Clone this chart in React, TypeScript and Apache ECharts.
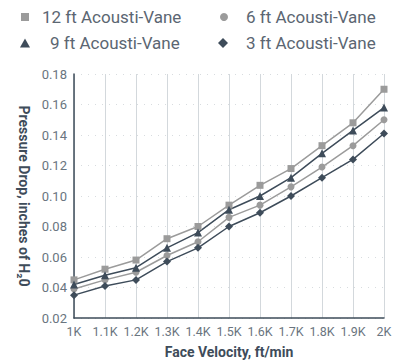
import React, { useEffect, useRef } from "react";
import * as echarts from "echarts";

const categories = ["1K", "1.1K", "1.2K", "1.3K", "1.4K", "1.5K", "1.6K", "1.7K", "1.8K", "1.9K", "2K"];
const seriesNames = ["12 ft Acousti-Vane", "6 ft Acousti-Vane", "9 ft Acousti-Vane", "3 ft Acousti-Vane"];
const ft12 = [0.045, 0.052, 0.058, 0.072, 0.080, 0.094, 0.107, 0.118, 0.133, 0.148, 0.170];
const ft9 = [0.042, 0.048, 0.053, 0.066, 0.076, 0.091, 0.100, 0.112, 0.128, 0.143, 0.158];
const ft6 = [0.039, 0.045, 0.050, 0.061, 0.070, 0.086, 0.094, 0.106, 0.119, 0.133, 0.150];
const ft3 = [0.035, 0.041, 0.045, 0.057, 0.066, 0.080, 0.089, 0.100, 0.112, 0.124, 0.141];

const GRAY = "#9b9b9b";
const DARK = "#3e4c5a";
const FONT = "Roboto, 'Noto Sans', sans-serif";

export default function App() {
  const ref = useRef<HTMLDivElement>(null);
  useEffect(() => {
    if (!ref.current) return;
    const chart = echarts.init(ref.current, undefined, { renderer: "svg" });
    const mk = (name: string, data: number[], color: string, symbol: string, size: number) => ({
      name,
      type: "line",
      data,
      symbol,
      symbolSize: size,
      itemStyle: { color },
      lineStyle: { color, width: 1.5 },
      z: 3,
    });
    const leg = (name: string, icon: string, left: number, top: number, w: number, h: number, pad: number) => ({
      data: [{ name, icon }],
      left,
      top,
      itemWidth: w,
      itemHeight: h,
      padding: 0,
      selectedMode: false,
      textStyle: {
        color: "#5b6672",
        fontSize: 17,
        fontFamily: FONT,
        lineHeight: 20,
        padding: [0, 0, 0, pad],
      },
    });
    chart.setOption({
      animation: false,
      backgroundColor: "#ffffff",
      legend: [
        leg(seriesNames[0], "rect", 21, 7, 8, 8, 8),
        leg(seriesNames[1], "circle", 220, 7, 8, 8, 13),
        leg(seriesNames[2], "triangle", 20, 33, 10, 9, 15),
        leg(seriesNames[3], "diamond", 218, 33, 10, 10, 13),
      ],
      grid: { left: 74, right: 19, top: 74, bottom: 45 },
      xAxis: {
        type: "category",
        data: categories,
        boundaryGap: false,
        name: "Face Velocity, ft/min",
        nameLocation: "middle",
        nameGap: 27,
        nameTextStyle: { color: "#3e4c5a", fontSize: 14, fontWeight: "bold", fontFamily: FONT },
        axisLine: { lineStyle: { color: "#3e4c5a", width: 1.5 } },
        axisTick: { show: false },
        axisLabel: { color: "#6a7580", fontSize: 12.5, fontFamily: FONT, margin: 7, interval: 0 },
        splitLine: { show: true, lineStyle: { color: "#d3d8dc", width: 1 } },
      },
      yAxis: {
        type: "value",
        min: 0.02,
        max: 0.18,
        interval: 0.02,
        name: "Pressure Drop, inches of H₂0",
        nameLocation: "middle",
        nameRotate: -90,
        nameGap: 41,
        nameTextStyle: { color: "#3e4c5a", fontSize: 14, fontWeight: "bold", fontFamily: FONT },
        axisLine: { show: true, lineStyle: { color: "#3e4c5a", width: 1.5 } },
        axisTick: { show: false },
        axisLabel: { color: "#6a7580", fontSize: 13, fontFamily: FONT, margin: 7, formatter: (v: number) => v.toFixed(2) },
        splitLine: { show: true, lineStyle: { color: "#d8dcdf", type: [1, 6], width: 1 } },
      },
      series: [
        mk(seriesNames[0], ft12, GRAY, "rect", 7),
        mk(seriesNames[1], ft6, GRAY, "circle", 7),
        mk(seriesNames[2], ft9, DARK, "triangle", 8),
        mk(seriesNames[3], ft3, DARK, "diamond", 8),
      ],
    });
    return () => chart.dispose();
  }, []);
  return <div ref={ref} style={{ width: 403, height: 364, position: "absolute", left: 0, top: 0 }} />;
}
